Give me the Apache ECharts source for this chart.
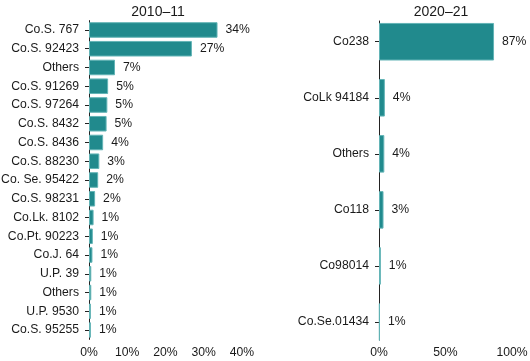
<!DOCTYPE html>
<html><head><meta charset="utf-8">
<script src="https://cdn.jsdelivr.net/npm/echarts@6/dist/echarts.min.js"></script>
<style>html,body{margin:0;padding:0;background:#fff}#c{width:530px;height:361px}</style>
</head><body><div id="c"></div>
<script>
const titleLeft = '2010–11';
const titleRight = '2020–21';
const catsLeft = ['Co.S. 767','Co.S. 92423','Others','Co.S. 91269','Co.S. 97264','Co.S. 8432','Co.S. 8436','Co.S. 88230','Co. Se. 95422','Co.S. 98231','Co.Lk. 8102','Co.Pt. 90223','Co.J. 64','U.P. 39','Others','U.P. 9530','Co.S. 95255'];
const valsLeft = [33.6,26.9,6.8,5.0,4.8,4.6,3.7,2.7,2.4,1.6,1.2,1.0,0.9,0.6,0.6,0.5,0.5];
const labelsLeft = ['34%','27%','7%','5%','5%','5%','4%','3%','2%','2%','1%','1%','1%','1%','1%','1%','1%'];
const catsRight = ['Co238','CoLk 94184','Others','Co118','Co98014','Co.Se.01434'];
const valsRight = [86.5,4.4,4.0,3.4,1.4,0.6];
const labelsRight = ['87%','4%','4%','3%','1%','1%'];
const ticksLeft = [0,10,20,30,40];
const ticksRight = [0,50,100];

const FONT = 'Liberation Sans, Arial, sans-serif';
const TXT = '#1a1a1a';
const FS = 12.2;
const barStyle = {color:'#218a8d', borderColor:'#63b4b6', borderWidth:1};
const chart = echarts.init(document.getElementById('c'));

function xAx(grid, ticks, showLabels){
  return {type:'value', gridIndex:grid, min:ticks[0], max:ticks[ticks.length-1], interval:ticks[1]-ticks[0],
    axisLine:{show:false}, axisTick:{show:false}, splitLine:{show:false},
    axisLabel:{show:showLabels, formatter:'{value}%', color:TXT, fontFamily:FONT, fontSize:FS, margin:7}};
}
function yAx(grid, cats, showLine){
  return {type:'category', gridIndex:grid, data:cats, inverse:true,
    axisLine:{show:showLine, lineStyle:{color:'#222', width:1}},
    axisTick:{show:true, length:4, alignWithLabel:true, lineStyle:{color:'#222'}},
    axisLabel:{color:TXT, fontFamily:FONT, fontSize:FS, margin:10}};
}
function barSeries(xi, yi, vals, labels, gap){
  return {type:'bar', xAxisIndex:xi, yAxisIndex:yi, data:vals, barCategoryGap:gap, itemStyle:barStyle,
    label:{show:true, position:'right', distance:8, color:TXT, fontFamily:FONT, fontSize:FS,
      formatter:p=>labels[p.dataIndex]}, silent:true, animation:false};
}

chart.setOption({
  animation:false,
  title:[
    {text:titleLeft, left:153, top:0, textAlign:'center', textStyle:{fontFamily:FONT, fontSize:14, fontWeight:'normal', color:TXT}},
    {text:titleRight, left:436, top:0, textAlign:'center', textStyle:{fontFamily:FONT, fontSize:14, fontWeight:'normal', color:TXT}}
  ],
  grid:[
    {left:89, width:153, top:20.6, height:318.8, containLabel:false, outerBoundsMode:'none'},
    {left:379, width:133, top:13.7, height:336.3, containLabel:false, outerBoundsMode:'none'},
    {left:379, width:133, top:21, height:319, containLabel:false, outerBoundsMode:'none'}
  ],
  xAxis:[xAx(0,ticksLeft,true), xAx(1,ticksRight,false), xAx(2,ticksRight,true)],
  yAxis:[yAx(0,catsLeft,true), yAx(1,catsRight,false),
    {type:'category', gridIndex:2, data:[''], axisLine:{show:true, lineStyle:{color:'#222'}}, axisTick:{show:false}, axisLabel:{show:false}}],
  series:[
    barSeries(0,0,valsLeft,labelsLeft,'17%'),
    barSeries(1,1,valsRight,labelsRight,'33%')
  ]
});
</script></body></html>
